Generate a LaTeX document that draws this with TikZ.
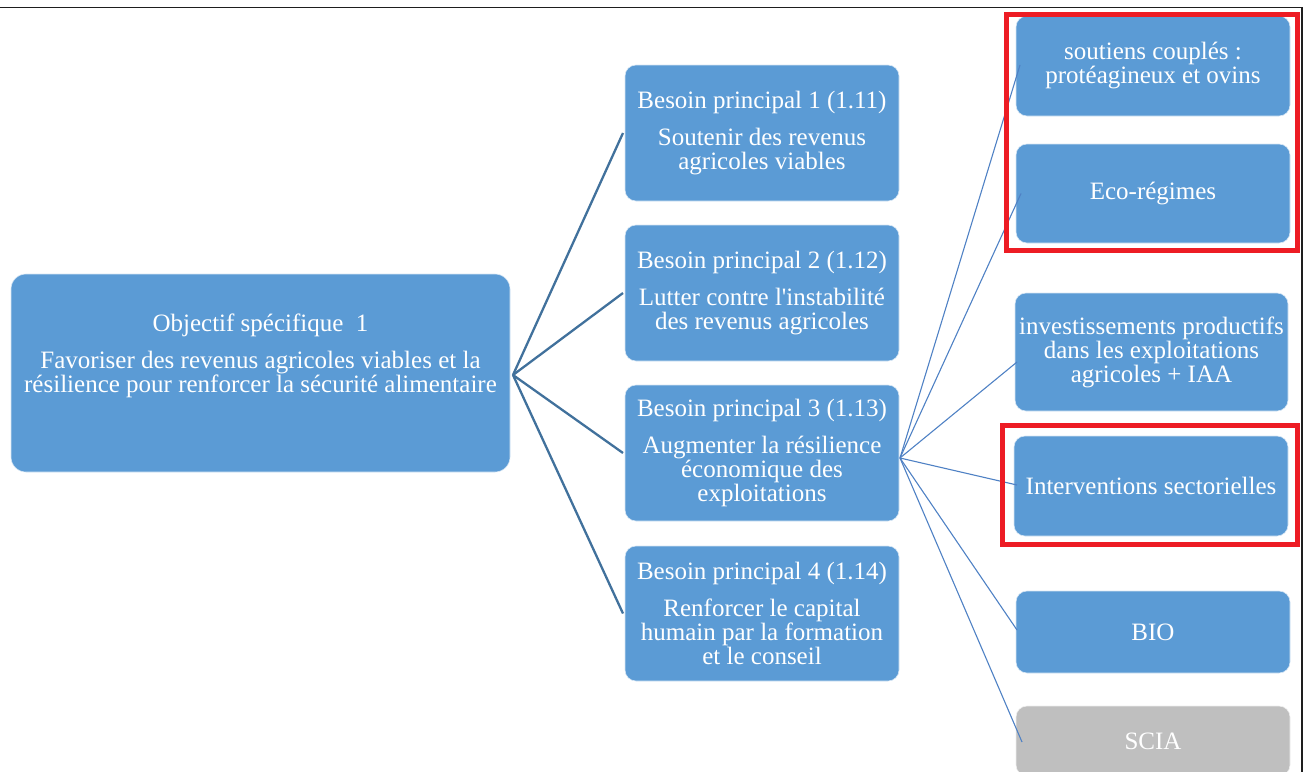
\documentclass[tikz,border=0pt]{standalone}
\usepackage{fontspec}
\setmainfont{Liberation Serif}[Ligatures=TeXOff]
\usetikzlibrary{calc}
\definecolor{boxblue}{RGB}{91,155,213}
\definecolor{boxgray}{RGB}{191,191,191}
\definecolor{markred}{RGB}{237,28,36}
\definecolor{linkdark}{RGB}{65,113,156}
\definecolor{linklight}{RGB}{79,129,196}
\definecolor{framegray}{RGB}{30,30,30}
\begin{document}
\begin{tikzpicture}[x=1pt,y=-1pt,
  box/.style={fill=boxblue, draw=white!75!boxblue, line width=0.6pt, rounded corners=11pt,
    inner sep=0pt, outer sep=0pt, text=white, align=center,
    font=\fontsize{25}{24}\selectfont},
  bigbox/.style={box, rounded corners=15pt, minimum width=499pt, minimum height=198pt},
  needbox/.style={box, minimum width=274pt, minimum height=136pt},
  actbox/.style={box, minimum width=274pt},
  graybox/.style={box, fill=boxgray, draw=white!75!boxgray},
  link1/.style={draw=linkdark, line width=2.3pt},
  link2/.style={draw=linklight, line width=1.1pt},
  redframe/.style={draw=markred, line width=5pt},
  pageframe/.style={draw=framegray, line width=1.6pt}
]
\useasboundingbox (0,0) rectangle (1306,771);
\clip (0,0) rectangle (1306,771);

% page frame (top and right edges visible)
\draw[pageframe] (-10,7.5) -- (1302,7.5) -- (1302,800);

% main objective
\node[bigbox] (obj) at (260.5,373) {Objectif spécifique\ \ 1\\[13pt]Favoriser des revenus agricoles viables et la\\résilience pour renforcer la sécurité alimentaire\rule[-39pt]{0pt}{1pt}};

% needs
\node[needbox] (b1) at (762,133) {Besoin principal 1 (1.11)\\[13pt]Soutenir des revenus\\agricoles viables};
\node[needbox] (b2) at (762,293) {Besoin principal 2 (1.12)\\[13pt]Lutter contre l'instabilité\\des revenus agricoles};
\node[needbox] (b3) at (762,453) {Besoin principal 3 (1.13)\\[13pt]Augmenter la résilience\\économique des\\exploitations};
\node[needbox, minimum height=135pt] (b4) at (762,613.5) {Besoin principal 4 (1.14)\\[13pt]Renforcer le capital\\humain par la formation\\et le conseil};

% interventions
\node[actbox, minimum height=100pt] (s1) at (1153,66) {soutiens couplés :\\protéagineux et ovins};
\node[actbox, minimum height=99pt] (s2) at (1153,193.5) {Eco-régimes};
\node[actbox, minimum width=273pt, minimum height=118pt] (s3) at (1151.5,352) {investissements productifs\\dans les exploitations\\agricoles + IAA};
\node[actbox, minimum height=100pt] (s4) at (1151,486) {Interventions sectorielles};
\node[actbox, minimum height=82pt] (s5) at (1153,632) {BIO};
\node[actbox, graybox, minimum height=70pt] (s6) at (1153,741) {SCIA};

% level 1 connectors
\coordinate (f1) at ($(obj.east)+(3,2)$);
\foreach \b in {b1,b2,b3,b4}
  \draw[link1] (f1) -- ($(\b.west)+(-2,0)$);

% level 2 connectors
\coordinate (f3) at ($(b3.east)+(1,5)$);
\draw[link2] (f3) -- ($(s1.west)+(4,-1)$);
\draw[link2] (f3) -- ($(s2.west)+(5,0)$);
\draw[link2] (f3) -- ($(s3.west)+(2,10)$);
\draw[link2] (f3) -- ($(s4.west)+(3,-1)$);
\draw[link2] (f3) -- ($(s5.west)+(1,-2)$);
\draw[link2] (f3) -- ($(s6.west)+(6,1)$);

% red highlight frames
\draw[redframe] (1006,14) rectangle (1297,250);
\draw[redframe] (1002,425.5) rectangle (1297.5,544.5);
\end{tikzpicture}
\end{document}
